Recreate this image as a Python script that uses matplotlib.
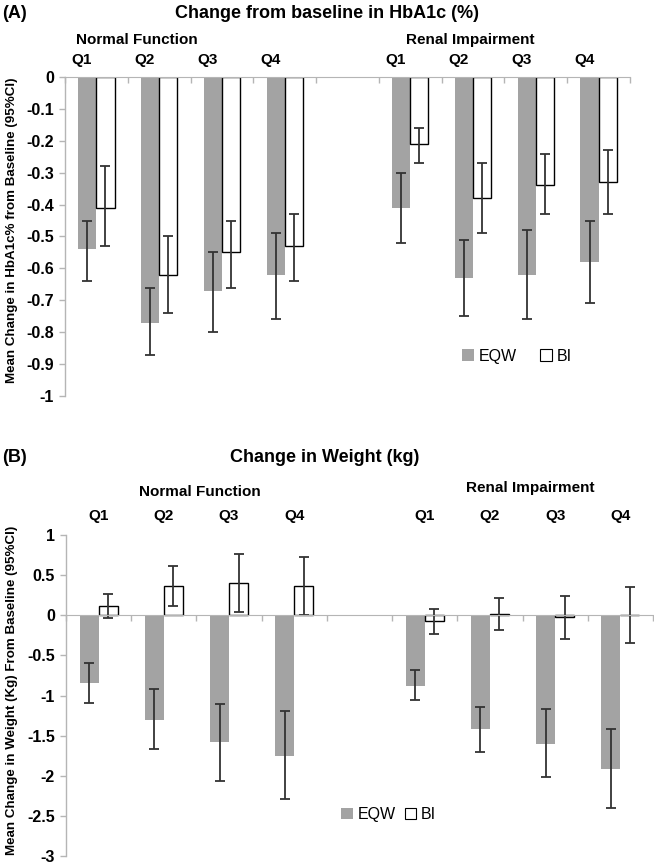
import matplotlib
matplotlib.use("Agg")
import matplotlib.pyplot as plt
import numpy as np
from matplotlib.patches import Patch

plt.rcParams['font.family'] = ['Liberation Sans', 'DejaVu Sans']

quartiles = ["Q1", "Q2", "Q3", "Q4"]
groups = ["Normal Function", "Renal Impairment"]
series = ["EQW", "BI"]

# Panel A: HbA1c change (normal Q1-Q4, renal Q1-Q4)
a_eqw = [-0.54, -0.77, -0.67, -0.62, -0.41, -0.63, -0.62, -0.58]
a_eqw_hi = [-0.45, -0.66, -0.55, -0.49, -0.30, -0.51, -0.48, -0.45]
a_eqw_lo = [-0.64, -0.87, -0.80, -0.76, -0.52, -0.75, -0.76, -0.71]
a_bi = [-0.41, -0.62, -0.55, -0.53, -0.21, -0.38, -0.34, -0.33]
a_bi_hi = [-0.28, -0.50, -0.45, -0.43, -0.16, -0.27, -0.24, -0.23]
a_bi_lo = [-0.53, -0.74, -0.66, -0.64, -0.27, -0.49, -0.43, -0.43]

# Panel B: weight change
b_eqw = [-0.84, -1.30, -1.58, -1.75, -0.88, -1.42, -1.60, -1.91]
b_eqw_hi = [-0.60, -0.92, -1.11, -1.19, -0.68, -1.14, -1.17, -1.42]
b_eqw_lo = [-1.09, -1.67, -2.06, -2.29, -1.06, -1.70, -2.02, -2.40]
b_bi = [0.11, 0.365, 0.405, 0.37, -0.075, 0.01, -0.025, 0.0]
b_bi_hi = [0.265, 0.61, 0.76, 0.73, 0.08, 0.22, 0.245, 0.355]
b_bi_lo = [-0.04, 0.12, 0.045, 0.0, -0.23, -0.19, -0.30, -0.35]

a_yticks = [0, -0.1, -0.2, -0.3, -0.4, -0.5, -0.6, -0.7, -0.8, -0.9, -1]
b_yticks = [1, 0.5, 0, -0.5, -1, -1.5, -2, -2.5, -3]

GRAY = "#a3a3a3"
AX = "#b5b5b5"
ERR = "#333333"

slots = np.array([0, 1, 2, 3, 5, 6, 7, 8], dtype=float)  # slot 4 is a gap
bw = 0.29

W, H = 654, 864
fig = plt.figure(figsize=(6.54, 8.64), dpi=100)

def fx(px):
    return px / W

def fy(py):
    return 1 - py / H

def draw(ax, eqw, eqw_hi, eqw_lo, bi, bi_hi, bi_lo, ylim, yticks):
    eqw = np.array(eqw); bi = np.array(bi)
    xe = slots + 0.5 - bw / 2
    xb = slots + 0.5 + bw / 2
    ax.bar(xe, eqw, bw, color=GRAY, edgecolor="none", zorder=2)
    ax.bar(xb, bi, bw, color="white", edgecolor="black", linewidth=1.0, zorder=2)
    ax.errorbar(xe, eqw, yerr=[eqw - np.array(eqw_lo), np.array(eqw_hi) - eqw],
                fmt="none", ecolor=ERR, elinewidth=1.3, capsize=3.5, capthick=1.3, zorder=3)
    ax.errorbar(xb, bi, yerr=[bi - np.array(bi_lo), np.array(bi_hi) - bi],
                fmt="none", ecolor=ERR, elinewidth=1.3, capsize=3.5, capthick=1.3, zorder=3)
    ax.set_xlim(0, 9)
    ax.set_ylim(*ylim)
    ax.set_yticks(yticks)
    ax.set_yticklabels(["%g" % v for v in yticks], fontsize=11.5, fontweight="bold")
    ax.set_xticks(np.arange(0, 10))
    ax.set_xticklabels([])
    for s in ["right", "bottom", "top"]:
        ax.spines[s].set_visible(False)
    ax.spines["left"].set_color(AX)
    ax.spines["left"].set_linewidth(1.0)
    ax.tick_params(axis="y", color=AX, length=4, width=1, pad=4)
    ax.patch.set_alpha(0)

def legend(ax, anchor, spacing):
    ax.legend(handles=[Patch(facecolor=GRAY, edgecolor="none", label=series[0]),
                       Patch(facecolor="white", edgecolor="black", linewidth=0.8, label=series[1])],
              loc="center", bbox_to_anchor=anchor, ncol=2, frameon=False,
              fontsize=11.5, handlelength=0.7, handleheight=0.7, handletextpad=0.3,
              columnspacing=spacing)

# ---- Panel A
axA = fig.add_axes([fx(65), fy(396), fx(630 - 65), (396 - 77) / H])
draw(axA, a_eqw, a_eqw_hi, a_eqw_lo, a_bi, a_bi_hi, a_bi_lo, (-1, 0), a_yticks)
axA.spines["top"].set_visible(True)
axA.spines["top"].set_color(AX)
axA.xaxis.set_ticks_position("top")
axA.tick_params(axis="x", direction="in", color=AX, length=4, width=1)
fig.text(fx(12), fy(230), "Mean Change in HbA1c% from Baseline (95%CI)", rotation=90,
         ha="center", va="center", fontsize=9.6, fontweight="bold")
for i, x in enumerate(slots):
    axA.text(x + 0.27, 0, quartiles[i % 4], transform=axA.get_xaxis_transform(),
             ha="center", va="center", fontsize=11, fontweight="bold")
    axA.texts[-1].set_transform(fig.transFigure)
    axA.texts[-1].set_position((fx(65 + (x + 0.27) * (565 / 9)), fy(60)))
fig.text(fx(137), fy(40), groups[0], ha="center", va="center", fontsize=11, fontweight="bold")
fig.text(fx(470), fy(40), groups[1], ha="center", va="center", fontsize=11, fontweight="bold")
legend(axA, (0.8, 0.125), 1.5)

fig.text(fx(327), fy(13), "Change from baseline in HbA1c (%)", ha="center",
         va="center", fontsize=13, fontweight="bold")
fig.text(fx(2), fy(14), "(A)", ha="left", va="center", fontsize=13, fontweight="bold")

# ---- Panel B
axB = fig.add_axes([fx(66), fy(856), fx(653 - 66), (856 - 535) / H])
draw(axB, b_eqw, b_eqw_hi, b_eqw_lo, b_bi, b_bi_hi, b_bi_lo, (-3, 1), b_yticks)
axB.spines["bottom"].set_visible(True)
axB.spines["bottom"].set_position(("data", 0))
axB.spines["bottom"].set_color(AX)
axB.spines["bottom"].set_zorder(4)
axB.tick_params(axis="x", direction="out", color=AX, length=4, width=1)
fig.text(fx(12), fy(690), "Mean Change in Weight (Kg) From Baseline (95%CI)", rotation=90,
         ha="center", va="center", fontsize=9.6, fontweight="bold")
for i, x in enumerate(slots):
    fig.text(fx(66 + (x + 0.5) * (587 / 9)), fy(516), quartiles[i % 4],
             ha="center", va="center", fontsize=11, fontweight="bold")
fig.text(fx(200), fy(492), groups[0], ha="center", va="center", fontsize=11, fontweight="bold")
fig.text(fx(530), fy(488), groups[1], ha="center", va="center", fontsize=11, fontweight="bold")
legend(axB, (0.55, 0.128), 0.6)

fig.text(fx(325), fy(458), "Change in Weight (kg)", ha="center",
         va="center", fontsize=13, fontweight="bold")
fig.text(fx(2), fy(458), "(B)", ha="left", va="center", fontsize=13, fontweight="bold")

fig.savefig("out.png", dpi=100)
